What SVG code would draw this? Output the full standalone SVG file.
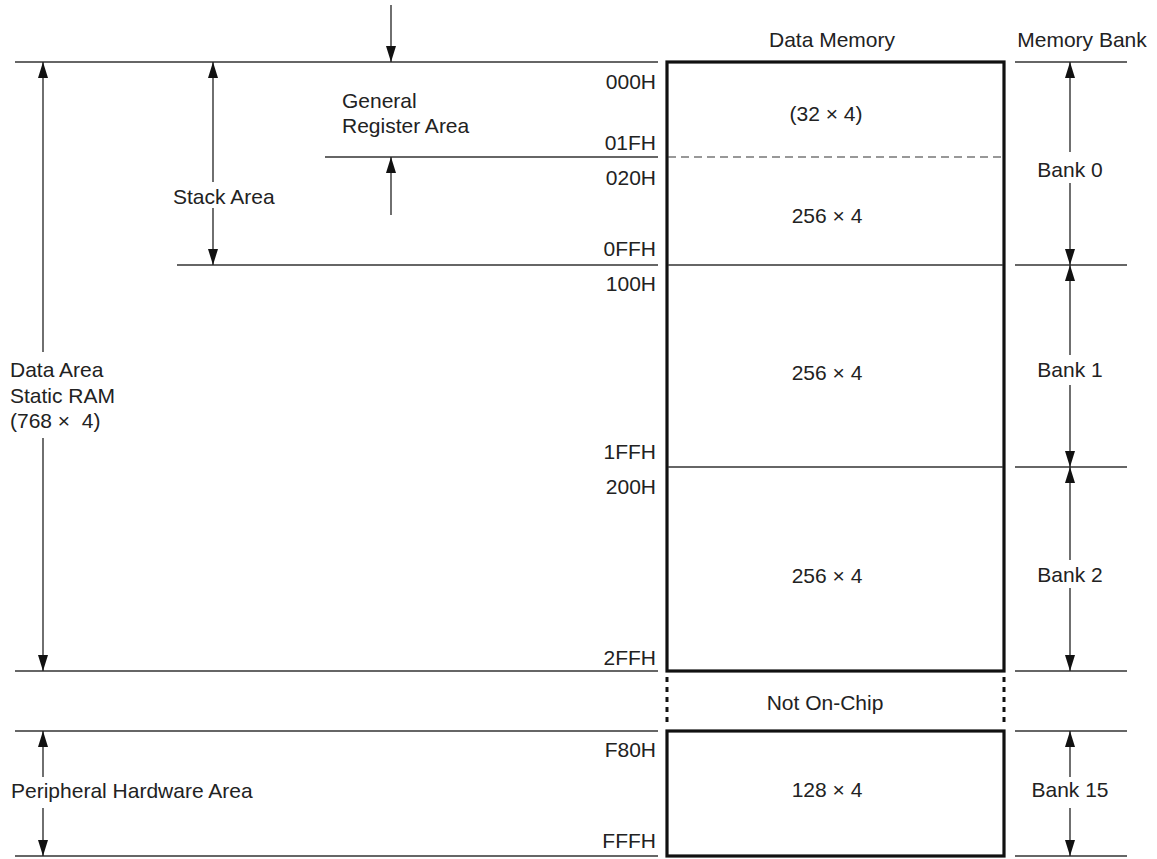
<svg xmlns="http://www.w3.org/2000/svg" width="1157" height="859" viewBox="0 0 1157 859">
<style>
text{font-family:"Liberation Sans",Arial,sans-serif;font-size:21px;fill:#222}
.r{text-anchor:end}
.m{text-anchor:middle}
.ln{stroke:#333;stroke-width:1.3;fill:none}
.ar{stroke:#222;stroke-width:1.3;fill:none;marker-end:url(#ah)}
.box{stroke:#111;stroke-width:3.2;fill:none}
.dash{stroke:#333;stroke-width:1.2;stroke-dasharray:8 5;fill:none}
.dot{stroke:#111;stroke-width:3;stroke-dasharray:5 5;fill:none}
</style>
<defs>
<marker id="ah" markerUnits="userSpaceOnUse" markerWidth="16" markerHeight="10" refX="16" refY="5" orient="auto">
<path d="M0,0 L16,5 L0,10 z" fill="#111"/>
</marker>
</defs>
<rect width="1157" height="859" fill="#fff"/>
<g id="connectors">
<line class="ln" x1="15" y1="62" x2="658" y2="62"/>
<line class="ln" x1="1015" y1="62" x2="1127" y2="62"/>
<line class="ln" x1="325" y1="157" x2="658" y2="157"/>
<line class="ln" x1="177" y1="265" x2="658" y2="265"/>
<line class="ln" x1="1015" y1="265" x2="1127" y2="265"/>
<line class="ln" x1="1015" y1="467" x2="1127" y2="467"/>
<line class="ln" x1="15" y1="671" x2="658" y2="671"/>
<line class="ln" x1="1015" y1="671" x2="1127" y2="671"/>
<line class="ln" x1="15" y1="731" x2="658" y2="731"/>
<line class="ln" x1="1015" y1="731" x2="1127" y2="731"/>
<line class="ln" x1="15" y1="856" x2="658" y2="856"/>
<line class="ln" x1="1015" y1="856" x2="1127" y2="856"/>
<path class="ar" d="M391,5 V62"/>
<path class="ar" d="M391,215 V157"/>
<path class="ar" d="M213,182 V62"/>
<path class="ar" d="M213,208 V265"/>
<path class="ar" d="M43,352 V62"/>
<path class="ar" d="M43,438 V671"/>
<path class="ar" d="M43,777 V731"/>
<path class="ar" d="M43,808 V856"/>
<path class="ar" d="M1070,152 V62"/>
<path class="ar" d="M1070,183 V265"/>
<path class="ar" d="M1070,355 V265"/>
<path class="ar" d="M1070,385 V467"/>
<path class="ar" d="M1070,560 V467"/>
<path class="ar" d="M1070,588 V671"/>
<path class="ar" d="M1070,777 V731"/>
<path class="ar" d="M1070,808 V856"/>
</g>
<g id="data-memory">
<rect class="box" x="667" y="62" width="337" height="609"/>
<line class="dash" x1="668" y1="157" x2="1003" y2="157"/>
<line class="ln" x1="668" y1="265" x2="1003" y2="265"/>
<line class="ln" x1="668" y1="467" x2="1003" y2="467"/>
<text class="m" x="832" y="47">Data Memory</text>
<text class="m" x="826" y="121">(32 × 4)</text>
<text class="m" x="827" y="223">256 × 4</text>
<text class="m" x="827" y="380">256 × 4</text>
<text class="m" x="827" y="583">256 × 4</text>
</g>
<g id="not-on-chip">
<line class="dot" x1="667" y1="677" x2="667" y2="725"/>
<line class="dot" x1="1004" y1="677" x2="1004" y2="725"/>
<text class="m" x="825" y="710">Not On-Chip</text>
</g>
<g id="bank15-memory">
<rect class="box" x="667" y="731" width="337" height="125"/>
<text class="m" x="827" y="797">128 × 4</text>
</g>
<g id="addresses">
<text class="r" x="656" y="89">000H</text>
<text class="r" x="656" y="150">01FH</text>
<text class="r" x="656" y="185">020H</text>
<text class="r" x="656" y="256">0FFH</text>
<text class="r" x="656" y="291">100H</text>
<text class="r" x="656" y="459">1FFH</text>
<text class="r" x="656" y="494">200H</text>
<text class="r" x="656" y="665">2FFH</text>
<text class="r" x="656" y="757">F80H</text>
<text class="r" x="656" y="848">FFFH</text>
</g>
<g id="memory-bank">
<text class="m" x="1082" y="47">Memory Bank</text>
<text class="m" x="1070" y="177">Bank 0</text>
<text class="m" x="1070" y="377">Bank 1</text>
<text class="m" x="1070" y="582">Bank 2</text>
<text class="m" x="1070" y="797">Bank 15</text>
</g>
<g id="general-register-area">
<text x="342" y="108">General</text>
<text x="342" y="133">Register Area</text>
</g>
<g id="stack-area">
<text x="173" y="204">Stack Area</text>
</g>
<g id="data-area">
<text x="10" y="377">Data Area</text>
<text x="10" y="403">Static RAM</text>
<text x="10" y="428">(768 ×&#160; 4)</text>
</g>
<g id="peripheral-area">
<text x="11" y="798">Peripheral Hardware Area</text>
</g>
</svg>
